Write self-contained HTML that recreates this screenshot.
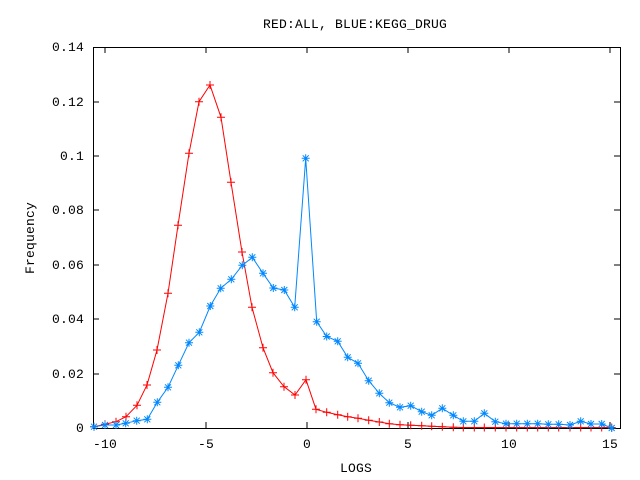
<!DOCTYPE html>
<html><head><meta charset="utf-8"><style>html,body{margin:0;padding:0;background:#fff}svg{display:block}text{font-family:"Liberation Mono",monospace;font-size:13px;letter-spacing:0.2px;fill:#000}</style></head><body>
<svg width="640" height="480" xmlns="http://www.w3.org/2000/svg">
<defs>
<g id="p"><path d="M-4,0H4M0,-4V4" stroke="#f00" stroke-width="1"/></g>
<g id="s"><path d="M-4,0H4M0,-4V4M-3,-3L3,3M-3,3L3,-3" stroke="#08f" stroke-width="1"/></g>
</defs>
<rect x="93.5" y="47.5" width="527" height="381" fill="none" stroke="#000"/>
<g stroke="#000">
<path d="M93,374H99M93,319H99M93,265H99M93,210H99M93,156H99M93,102H99M620,374H614M620,319H614M620,265H614M620,210H614M620,156H614M620,102H614"/>
<path d="M105,428V422M206,428V422M307,428V422M408,428V422M509,428V422M610,428V422M105,47V53M206,47V53M307,47V53M408,47V53M509,47V53M610,47V53"/>
</g>
<g text-anchor="end">
<text x="84" y="432">0</text><text x="84" y="378">0.02</text><text x="84" y="323">0.04</text><text x="84" y="269">0.06</text><text x="84" y="214">0.08</text><text x="84" y="160">0.1</text><text x="84" y="106">0.12</text><text x="84" y="51">0.14</text>
</g>
<g text-anchor="middle">
<text x="105" y="448">-10</text><text x="206" y="448">-5</text><text x="307" y="448">0</text><text x="408" y="448">5</text><text x="509" y="448">10</text><text x="610" y="448">15</text>
<text x="356" y="472">LOGS</text>
<text x="355" y="28">RED:ALL, BLUE:KEGG_DRUG</text>
<text transform="translate(34,238) rotate(-90)">Frequency</text>
</g>
<polyline fill="none" stroke="#f00" stroke-width="1" points="94,426.7 105,424.3 116,421.7 126,416.7 137,405.3 147,385 157,350 168,293.3 178,225.3 189,153.3 199,101.7 210,85 221,117.3 231,182.3 242,252 252,307.3 263,347.7 273,372.7 284,386.7 295,395 306,379.7 316,409.3 326.7,412.3 337.7,414.7 347.7,416.7 358,418.3 368.7,420.3 379.3,422 389.3,423.7 400,424.7 410.7,425.3 421.7,425.7 431.7,426.3 442.3,426.7 453.3,427.3 463.3,427.5 474.3,427.5 484.3,427.5 495.3,427.5 506,427.5 516.7,427.5 527.3,427.5 537.7,427.5 548.3,427.5 558.7,427.5 570,427.5 580.7,427.5 591,427.5 601.7,427.5 611.7,427.5"/>
<polyline fill="none" stroke="#08f" stroke-width="1" points="94,426.7 105,425 116,425 125.7,423.3 136.7,420.7 147.3,419.3 157.3,402.3 168,387.3 178.3,365.3 189,342.7 199.3,332.3 210.3,306 220.7,288.3 231.3,279.3 242.3,265.3 252.3,257.3 263,273.3 273.3,288 284.3,290 294.7,307.3 305.7,158.3 316.7,321.7 326.7,336.5 337.7,341.3 347.7,357.3 358,363.3 368.7,380.7 379.3,393.3 389.3,402.7 400,407.3 410.7,405.7 421.7,411.7 431.7,415.3 442.3,408.3 453.3,415.3 463.3,421.3 474.3,421.3 484.3,413.3 495.3,421.7 506,423.7 516.7,423.7 527.3,423.7 537.7,423.7 548.3,424.3 558.7,424.3 570,425 580.7,421.3 591,424 601.7,424 611.7,428"/>
<g>
<use href="#p" x="94" y="426.7"/><use href="#p" x="105" y="424.3"/><use href="#p" x="116" y="421.7"/><use href="#p" x="126" y="416.7"/><use href="#p" x="137" y="405.3"/><use href="#p" x="147" y="385"/><use href="#p" x="157" y="350"/><use href="#p" x="168" y="293.3"/><use href="#p" x="178" y="225.3"/><use href="#p" x="189" y="153.3"/><use href="#p" x="199" y="101.7"/><use href="#p" x="210" y="85"/><use href="#p" x="221" y="117.3"/><use href="#p" x="231" y="182.3"/><use href="#p" x="242" y="252"/><use href="#p" x="252" y="307.3"/><use href="#p" x="263" y="347.7"/><use href="#p" x="273" y="372.7"/><use href="#p" x="284" y="386.7"/><use href="#p" x="295" y="395"/><use href="#p" x="306" y="379.7"/><use href="#p" x="316" y="409.3"/><use href="#p" x="326.7" y="412.3"/><use href="#p" x="337.7" y="414.7"/><use href="#p" x="347.7" y="416.7"/><use href="#p" x="358" y="418.3"/><use href="#p" x="368.7" y="420.3"/><use href="#p" x="379.3" y="422"/><use href="#p" x="389.3" y="423.7"/><use href="#p" x="400" y="424.7"/><use href="#p" x="410.7" y="425.3"/><use href="#p" x="421.7" y="425.7"/><use href="#p" x="431.7" y="426.3"/><use href="#p" x="442.3" y="426.7"/><use href="#p" x="453.3" y="427.3"/><use href="#p" x="463.3" y="427.5"/><use href="#p" x="474.3" y="427.5"/><use href="#p" x="484.3" y="427.5"/><use href="#p" x="495.3" y="427.5"/><use href="#p" x="506" y="427.5"/><use href="#p" x="516.7" y="427.5"/><use href="#p" x="527.3" y="427.5"/><use href="#p" x="537.7" y="427.5"/><use href="#p" x="548.3" y="427.5"/><use href="#p" x="558.7" y="427.5"/><use href="#p" x="570" y="427.5"/><use href="#p" x="580.7" y="427.5"/><use href="#p" x="591" y="427.5"/><use href="#p" x="601.7" y="427.5"/><use href="#p" x="611.7" y="427.5"/>
</g>
<g>
<use href="#s" x="94" y="426.7"/><use href="#s" x="105" y="425"/><use href="#s" x="116" y="425"/><use href="#s" x="125.7" y="423.3"/><use href="#s" x="136.7" y="420.7"/><use href="#s" x="147.3" y="419.3"/><use href="#s" x="157.3" y="402.3"/><use href="#s" x="168" y="387.3"/><use href="#s" x="178.3" y="365.3"/><use href="#s" x="189" y="342.7"/><use href="#s" x="199.3" y="332.3"/><use href="#s" x="210.3" y="306"/><use href="#s" x="220.7" y="288.3"/><use href="#s" x="231.3" y="279.3"/><use href="#s" x="242.3" y="265.3"/><use href="#s" x="252.3" y="257.3"/><use href="#s" x="263" y="273.3"/><use href="#s" x="273.3" y="288"/><use href="#s" x="284.3" y="290"/><use href="#s" x="294.7" y="307.3"/><use href="#s" x="305.7" y="158.3"/><use href="#s" x="316.7" y="321.7"/><use href="#s" x="326.7" y="336.5"/><use href="#s" x="337.7" y="341.3"/><use href="#s" x="347.7" y="357.3"/><use href="#s" x="358" y="363.3"/><use href="#s" x="368.7" y="380.7"/><use href="#s" x="379.3" y="393.3"/><use href="#s" x="389.3" y="402.7"/><use href="#s" x="400" y="407.3"/><use href="#s" x="410.7" y="405.7"/><use href="#s" x="421.7" y="411.7"/><use href="#s" x="431.7" y="415.3"/><use href="#s" x="442.3" y="408.3"/><use href="#s" x="453.3" y="415.3"/><use href="#s" x="463.3" y="421.3"/><use href="#s" x="474.3" y="421.3"/><use href="#s" x="484.3" y="413.3"/><use href="#s" x="495.3" y="421.7"/><use href="#s" x="506" y="423.7"/><use href="#s" x="516.7" y="423.7"/><use href="#s" x="527.3" y="423.7"/><use href="#s" x="537.7" y="423.7"/><use href="#s" x="548.3" y="424.3"/><use href="#s" x="558.7" y="424.3"/><use href="#s" x="570" y="425"/><use href="#s" x="580.7" y="421.3"/><use href="#s" x="591" y="424"/><use href="#s" x="601.7" y="424"/><use href="#s" x="611.7" y="428"/>
</g>
</svg>
</body></html>
